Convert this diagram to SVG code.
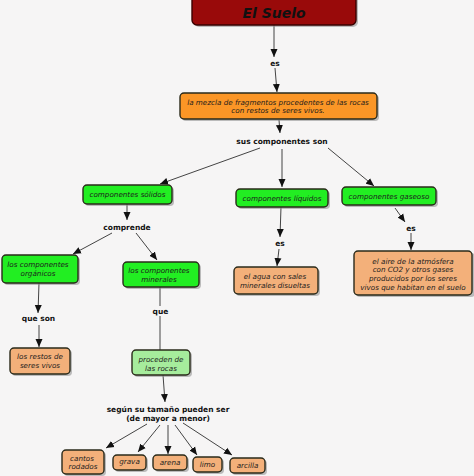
<svg xmlns="http://www.w3.org/2000/svg" width="474" height="476" viewBox="0 0 474 476">
<defs>
<marker id="ah" markerUnits="userSpaceOnUse" markerWidth="8" markerHeight="8" viewBox="0 0 8 8" refX="8" refY="4" orient="auto">
<path d="M0,0.5 L8,4 L0,7.5 Z" fill="#111"/>
</marker>
<style>
.sh{fill:#8a8a8a;opacity:0.55}
.box{stroke:#2a2a1a;stroke-width:1.4}
.red{fill:#990a0a;stroke:#3a0000}
.or{fill:#fb9626}
.pe{fill:#f3b07a}
.gr{fill:#22ee22}
.pg{fill:#a6ec9c}
.t{font-family:"DejaVu Sans",Verdana,sans-serif;font-style:italic;font-size:7.2px;fill:#1c1c1c;text-anchor:middle}
.l{font-family:"DejaVu Sans",Verdana,sans-serif;font-weight:bold;font-size:7.5px;fill:#111;text-anchor:middle}
.ti{font-family:"DejaVu Sans",Verdana,sans-serif;font-weight:bold;font-style:italic;font-size:14px;fill:#111;text-anchor:middle}
.c{stroke:#444;stroke-width:1;fill:none}
.a{marker-end:url(#ah)}
</style>
</defs>
<rect width="474" height="476" fill="#f6f5f5"/>
<g id="connectors">
<line class="c a" x1="274" y1="25" x2="274" y2="57"/>
<line class="c a" x1="275" y1="68" x2="277" y2="92"/>
<line class="c a" x1="279" y1="120" x2="280" y2="133"/>
<line class="c a" x1="260" y1="148" x2="160" y2="184"/>
<line class="c a" x1="282" y1="149" x2="282" y2="187"/>
<line class="c a" x1="328" y1="148" x2="374" y2="186"/>
<line class="c a" x1="127" y1="204" x2="127" y2="220"/>
<line class="c a" x1="112" y1="233" x2="73" y2="254"/>
<line class="c a" x1="136" y1="233" x2="157" y2="260"/>
<line class="c a" x1="281" y1="207" x2="280" y2="237"/>
<line class="c a" x1="279" y1="249" x2="277" y2="266"/>
<line class="c a" x1="395" y1="208" x2="405" y2="222"/>
<line class="c a" x1="411" y1="233" x2="411" y2="250"/>
<line class="c a" x1="39" y1="283" x2="38" y2="313"/>
<line class="c a" x1="39" y1="325" x2="39" y2="347"/>
<line class="c" x1="160" y1="287" x2="160" y2="306"/>
<line class="c" x1="160" y1="316" x2="160" y2="350"/>
<line class="c a" x1="163" y1="375" x2="165" y2="402"/>
<line class="c a" x1="147" y1="424" x2="106" y2="448"/>
<line class="c a" x1="160" y1="425" x2="138" y2="452"/>
<line class="c a" x1="168" y1="425" x2="168" y2="454"/>
<line class="c a" x1="175" y1="425" x2="197" y2="455"/>
<line class="c a" x1="183" y1="423" x2="232" y2="455"/>
</g>
<g id="n-title">
<rect class="sh" x="194" y="-4" width="164" height="31" rx="5"/>
<rect class="box red" x="192" y="-6" width="164" height="31" rx="5"/>
<text class="ti" x="274" y="18">El Suelo</text>
</g>
<g id="n-es1"><text class="l" x="275" y="66">es</text></g>
<g id="n-mezcla">
<rect class="sh" x="182" y="95" width="197" height="26" rx="4"/>
<rect class="box or" x="180" y="93" width="197" height="26" rx="4"/>
<text class="t" x="278" y="104.5">la mezcla de fragmentos procedentes de las rocas</text>
<text class="t" x="278" y="113">con restos de seres vivos.</text>
</g>
<g id="n-sus"><text class="l" x="282" y="144">sus componentes son</text></g>
<g id="n-solidos">
<rect class="sh" x="85" y="187" width="89" height="19" rx="4"/>
<rect class="box gr" x="83" y="185" width="89" height="19" rx="4"/>
<text class="t" x="127.5" y="197">componentes sólidos</text>
</g>
<g id="n-liquidos">
<rect class="sh" x="238" y="191" width="92" height="18" rx="4"/>
<rect class="box gr" x="236" y="189" width="92" height="18" rx="4"/>
<text class="t" x="282" y="200.5">componentes líquidos</text>
</g>
<g id="n-gaseoso">
<rect class="sh" x="344" y="189" width="94" height="18" rx="4"/>
<rect class="box gr" x="342" y="187" width="94" height="18" rx="4"/>
<text class="t" x="389" y="198.5">componentes gaseoso</text>
</g>
<g id="n-comprende"><text class="l" x="127" y="230">comprende</text></g>
<g id="n-es2"><text class="l" x="280" y="246">es</text></g>
<g id="n-es3"><text class="l" x="411" y="231">es</text></g>
<g id="n-organicos">
<rect class="sh" x="4" y="257" width="76" height="28" rx="4"/>
<rect class="box gr" x="2" y="255" width="76" height="28" rx="4"/>
<text class="t" x="38" y="266.5">los componentes</text>
<text class="t" x="38" y="275.5">orgánicos</text>
</g>
<g id="n-minerales">
<rect class="sh" x="125" y="264" width="76" height="25" rx="4"/>
<rect class="box gr" x="123" y="262" width="76" height="25" rx="4"/>
<text class="t" x="159" y="273">los componentes</text>
<text class="t" x="159" y="282">minerales</text>
</g>
<g id="n-agua">
<rect class="sh" x="236" y="269" width="84" height="27" rx="4"/>
<rect class="box pe" x="234" y="267" width="84" height="27" rx="4"/>
<text class="t" x="275" y="279">el agua con sales</text>
<text class="t" x="275" y="288">minerales disueltas</text>
</g>
<g id="n-aire">
<rect class="sh" x="356" y="253" width="119" height="44" rx="4"/>
<rect class="box pe" x="354" y="251" width="118" height="44" rx="4"/>
<text class="t" x="413" y="263.5">el aire de la atmósfera</text>
<text class="t" x="413" y="272.3">con CO2 y otros gases</text>
<text class="t" x="413" y="281.1">producidos por los seres</text>
<text class="t" x="413" y="289.9">vivos que habitan en el suelo</text>
</g>
<g id="n-queson"><text class="l" x="38.5" y="321">que son</text></g>
<g id="n-que"><text class="l" x="160.5" y="314">que</text></g>
<g id="n-restos">
<rect class="sh" x="12" y="350" width="60" height="26" rx="4"/>
<rect class="box pe" x="10" y="348" width="60" height="26" rx="4"/>
<text class="t" x="40" y="358.5">los restos de</text>
<text class="t" x="40" y="367.5">seres vivos</text>
</g>
<g id="n-proceden">
<rect class="sh" x="134" y="352" width="58" height="25" rx="4"/>
<rect class="box pg" x="132" y="350" width="58" height="25" rx="4"/>
<text class="t" x="161" y="361.5">proceden de</text>
<text class="t" x="161" y="370.5">las rocas</text>
</g>
<g id="n-segun">
<text class="l" x="168" y="412">según su tamaño pueden ser</text>
<text class="l" x="168" y="421">(de mayor a menor)</text>
</g>
<g id="n-cantos">
<rect class="sh" x="64" y="452" width="42" height="24" rx="4"/>
<rect class="box pe" x="62" y="450" width="42" height="24" rx="4"/>
<text class="t" x="82" y="460.5">cantos</text>
<text class="t" x="83" y="469">rodados</text>
</g>
<g id="n-grava">
<rect class="sh" x="115" y="457" width="33" height="15" rx="4"/>
<rect class="box pe" x="113" y="455" width="33" height="15" rx="4"/>
<text class="t" x="129.5" y="463.5">grava</text>
</g>
<g id="n-arena">
<rect class="sh" x="155" y="457" width="34" height="15" rx="4"/>
<rect class="box pe" x="153" y="455" width="34" height="15" rx="4"/>
<text class="t" x="170" y="465">arena</text>
</g>
<g id="n-limo">
<rect class="sh" x="195" y="459" width="29" height="15" rx="4"/>
<rect class="box pe" x="193" y="457" width="29" height="15" rx="4"/>
<text class="t" x="207.5" y="467">limo</text>
</g>
<g id="n-arcilla">
<rect class="sh" x="232" y="460" width="35" height="15" rx="4"/>
<rect class="box pe" x="230" y="458" width="35" height="15" rx="4"/>
<text class="t" x="247.5" y="468">arcilla</text>
</g>
</svg>
